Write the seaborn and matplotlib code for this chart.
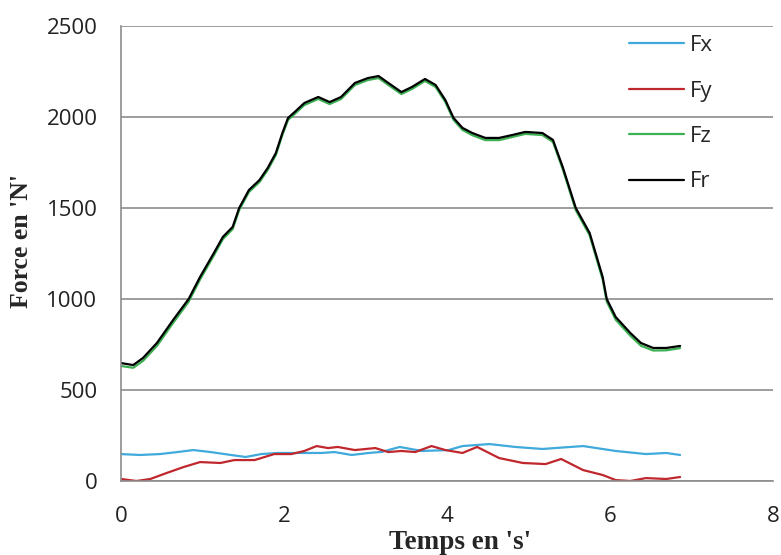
import matplotlib
matplotlib.use("Agg")
import matplotlib.pyplot as plt
import seaborn as sns
import pandas as pd

# ---- data ----
t_fr = [0.00, 0.15, 0.27, 0.44, 0.64, 0.83, 0.97, 1.14, 1.25, 1.37, 1.45, 1.57, 1.70, 1.80,
        1.90, 1.98, 2.05, 2.13, 2.25, 2.42, 2.56, 2.70, 2.87, 3.03, 3.16, 3.28, 3.44, 3.57,
        3.73, 3.86, 3.98, 4.08, 4.19, 4.31, 4.47, 4.64, 4.80, 4.96, 5.17, 5.30, 5.42, 5.58,
        5.75, 5.91, 5.96, 6.07, 6.25, 6.38, 6.53, 6.69, 6.86]
fr = [648, 637, 676, 758, 885, 1000, 1121, 1253, 1341, 1396, 1500, 1599, 1654, 1720,
      1802, 1912, 1995, 2027, 2077, 2110, 2082, 2110, 2187, 2214, 2225, 2187, 2137, 2165,
      2209, 2176, 2093, 1995, 1940, 1912, 1885, 1885, 1901, 1918, 1912, 1874, 1725, 1500,
      1363, 1121, 1000, 901, 813, 758, 731, 731, 742]
fz = [632, 622, 660, 742, 869, 985, 1107, 1240, 1329, 1384, 1489, 1588, 1643, 1709,
      1791, 1901, 1984, 2016, 2066, 2099, 2071, 2099, 2176, 2203, 2214, 2176, 2126, 2154,
      2198, 2165, 2082, 1984, 1929, 1900, 1873, 1873, 1890, 1907, 1901, 1863, 1714, 1488,
      1350, 1107, 986, 886, 798, 743, 717, 718, 730]

t_fx = [0.00, 0.23, 0.48, 0.69, 0.89, 1.10, 1.35, 1.53, 1.72, 1.93, 2.21, 2.46, 2.62, 2.83,
        3.04, 3.20, 3.42, 3.69, 4.02, 4.19, 4.52, 4.84, 5.17, 5.67, 6.07, 6.44, 6.69, 6.86]
fx = [148, 143, 148, 159, 170, 159, 143, 132, 148, 154, 154, 154, 159, 143,
      154, 160, 187, 165, 170, 192, 203, 187, 176, 192, 165, 148, 154, 143]

t_fy = [0.00, 0.19, 0.36, 0.56, 0.77, 0.97, 1.22, 1.39, 1.64, 1.88, 2.09, 2.25, 2.40, 2.54,
        2.66, 2.87, 3.12, 3.28, 3.44, 3.61, 3.81, 3.98, 4.19, 4.37, 4.64, 4.93, 5.21, 5.40,
        5.67, 5.91, 6.07, 6.25, 6.44, 6.69, 6.86]
fy = [11, 0, 11, 44, 77, 104, 99, 115, 115, 148, 148, 165, 192, 181,
      187, 170, 181, 159, 165, 159, 192, 170, 154, 187, 126, 99, 93, 121,
      60, 33, 5, 0, 16, 11, 22]

series_names = ["Fx", "Fy", "Fz", "Fr"]
series_colors = ["#3FAADB", "#C0272D", "#3DB054", "#000000"]
x_ticks = [0, 2, 4, 6, 8]
y_ticks = [0, 500, 1000, 1500, 2000, 2500]

df = pd.concat([
    pd.DataFrame({"t": t_fx, "F": fx, "serie": "Fx"}),
    pd.DataFrame({"t": t_fy, "F": fy, "serie": "Fy"}),
    pd.DataFrame({"t": t_fr, "F": fz, "serie": "Fz"}),
    pd.DataFrame({"t": t_fr, "F": fr, "serie": "Fr"}),
], ignore_index=True)

sns.set_theme(style="white")
plt.rcParams["font.family"] = ["Open Sans", "DejaVu Sans"]

fig = plt.figure(figsize=(7.81, 5.55), dpi=100)
ax = fig.add_axes([121 / 781, 74 / 555, (773 - 121) / 781, (481 - 26) / 555])

sns.lineplot(data=df, x="t", y="F", hue="serie", hue_order=series_names,
             palette=dict(zip(series_names, series_colors)), linewidth=1.6,
             sort=False, estimator=None, ax=ax)

ax.set_xlim(0, 8)
ax.set_ylim(0, 2500)
ax.set_xticks(x_ticks)
ax.set_yticks(y_ticks)
ax.tick_params(axis="both", length=0, labelsize=16, colors="#222222")
ax.tick_params(axis="y", pad=17)
ax.tick_params(axis="x", pad=18)

ax.yaxis.grid(True, color="#8c8c8c", linewidth=1.2)
ax.xaxis.grid(False)
for s in ["top", "right"]:
    ax.spines[s].set_visible(False)
ax.spines["left"].set_color("#8c8c8c")
ax.spines["left"].set_linewidth(1.2)
ax.spines["bottom"].set_color("#8c8c8c")
ax.spines["bottom"].set_linewidth(1.2)

ax.set_xlabel("Temps en 's'", family="Liberation Serif", fontweight="bold",
              fontsize=19.5)
ax.set_ylabel("Force en 'N'", family="Liberation Serif", fontweight="bold",
              fontsize=18.5)
ax.xaxis.set_label_coords((460 - 121) / (773 - 121), -(530 - 481) / (481 - 26))
ax.yaxis.set_label_coords(-(121 - 33) / (773 - 121), (481 - 241) / (481 - 26))

leg = ax.legend(loc="upper left", bbox_to_anchor=(618 / 781, 1 - 24 / 555),
                bbox_transform=fig.transFigure, frameon=False, fontsize=16,
                handlelength=2.45, handletextpad=0.3, labelspacing=1.1,
                borderpad=0, title=None)
for line in leg.get_lines():
    line.set_linewidth(1.6)

fig.savefig("out.png", dpi=100)
